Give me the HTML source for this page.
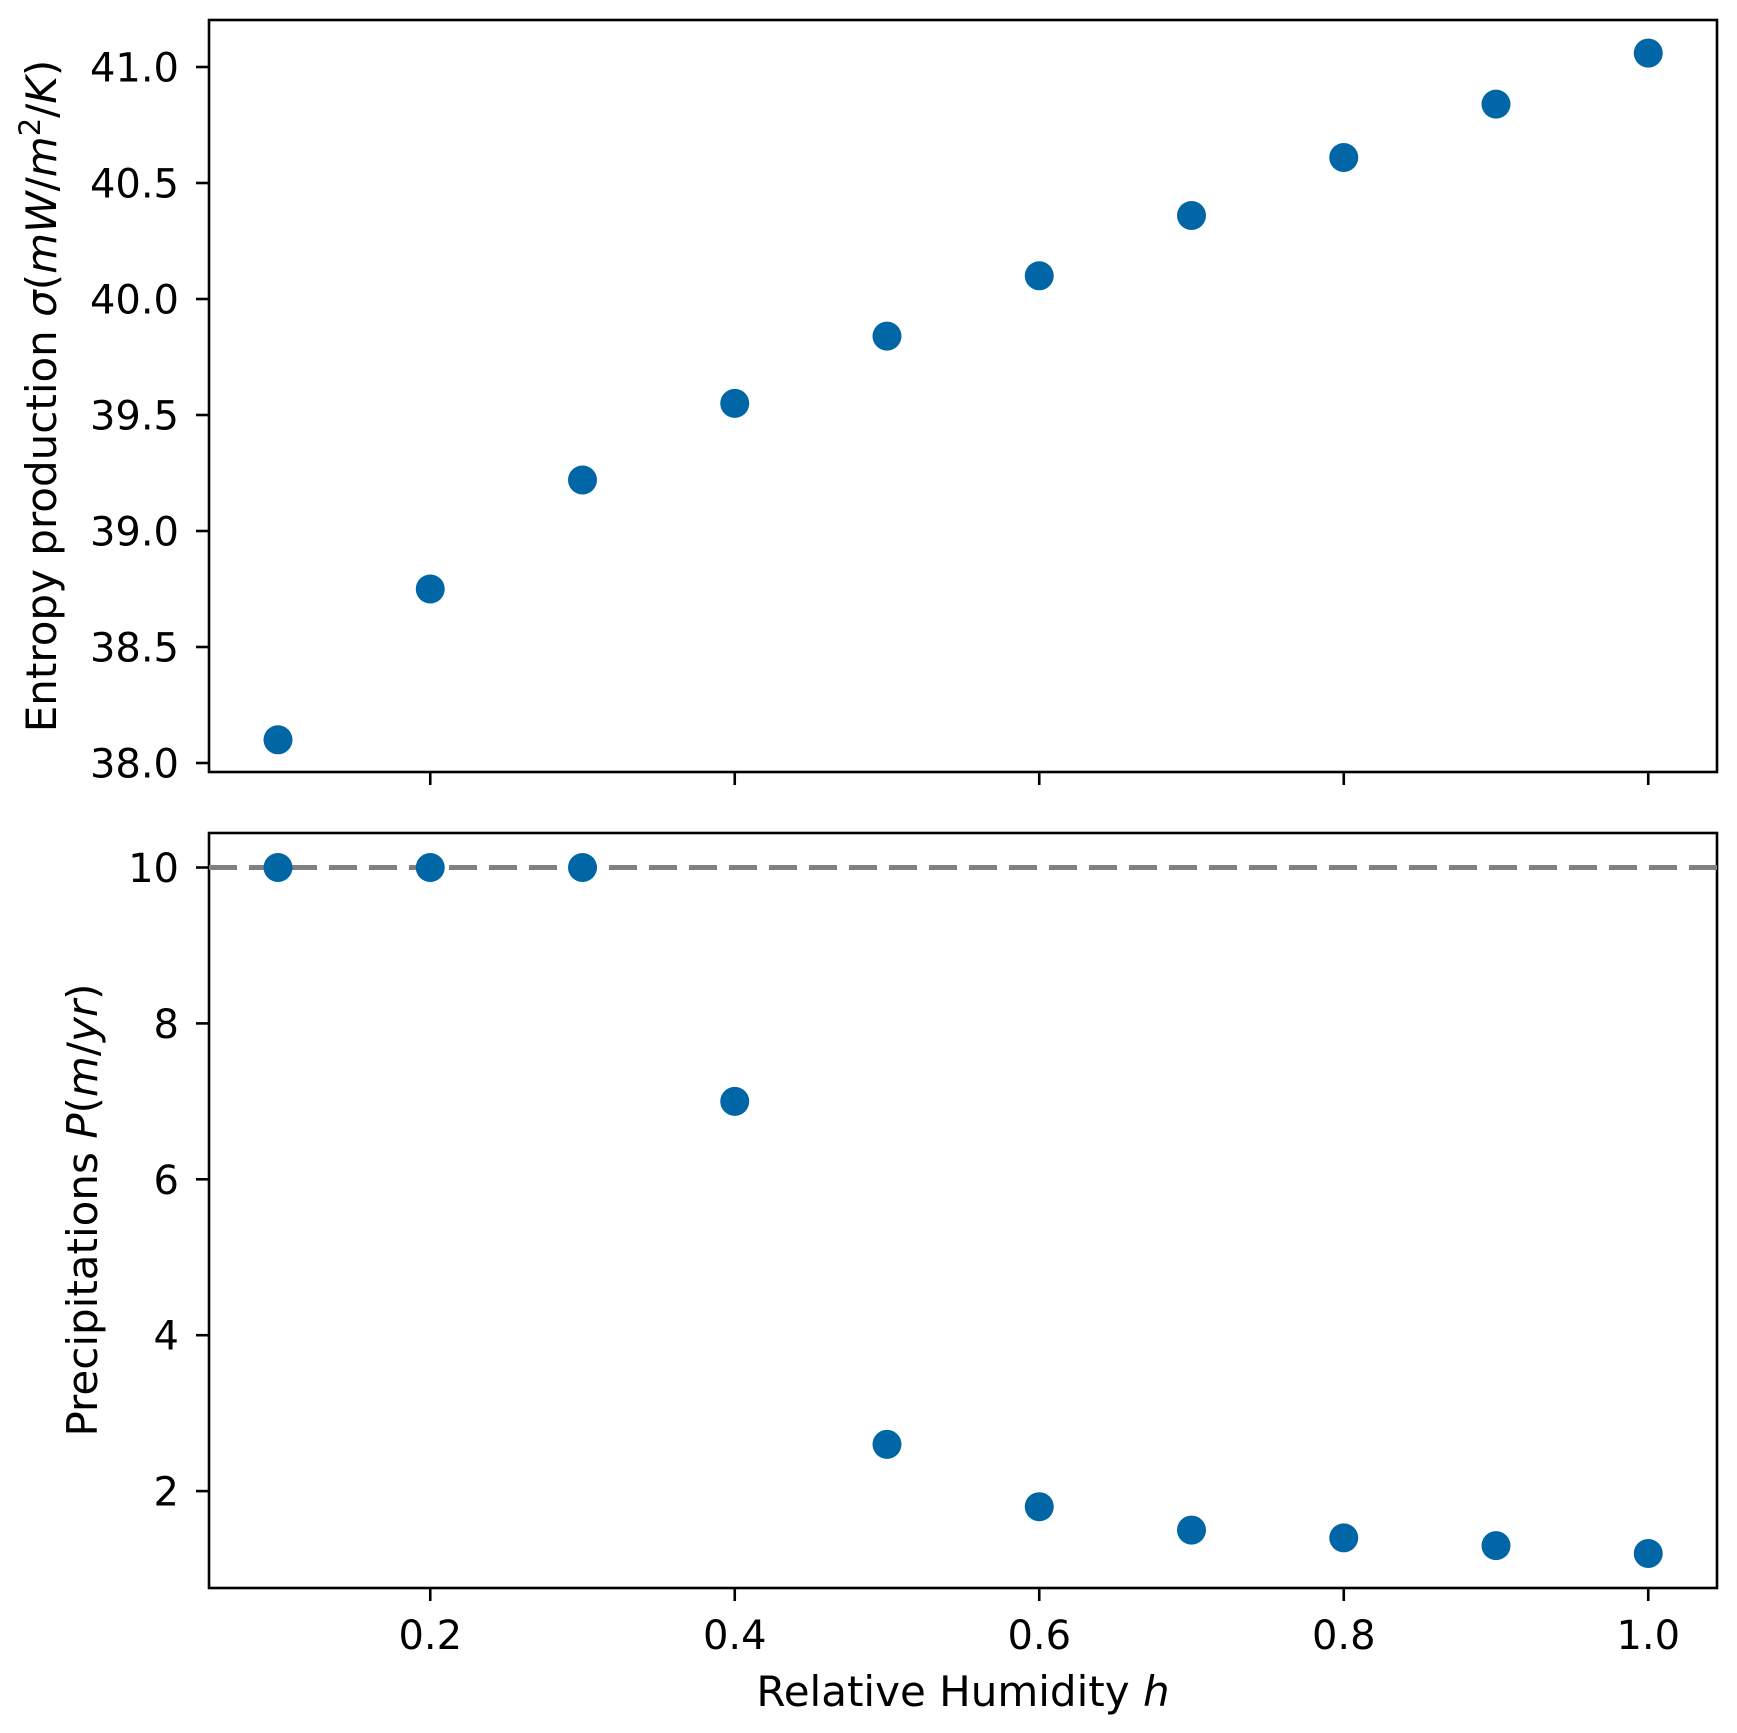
<!DOCTYPE html>
<html><head><meta charset="utf-8"><style>body{margin:0;background:#fff}svg{display:block;font-family:"DejaVu Sans","Liberation Sans",sans-serif}</style></head>
<body>
<svg id="c" width="1737" height="1733" xmlns="http://www.w3.org/2000/svg"></svg>
<script>
const hVals=[0.1,0.2,0.3,0.4,0.5,0.6,0.7,0.8,0.9,1.0];
const entropy=[38.1,38.75,39.22,39.55,39.84,40.1,40.36,40.61,40.84,41.06];
const precip=[10,10,10,7,2.6,1.8,1.5,1.4,1.3,1.2];
const xTicks=[0.2,0.4,0.6,0.8,1.0];
const yTopTicks=[38.0,38.5,39.0,39.5,40.0,40.5,41.0];
const yBotTicks=[2,4,6,8,10];
const refLine=[10];
const NS="http://www.w3.org/2000/svg";
const svg=document.getElementById('c');
const L=209,R=1717;
const x=v=>278+(v-0.1)*1522.5;
const yT=v=>763-(v-38)*232;
const yB=v=>867.5-(v-10)*77.95;
function el(t,a,p){const e=document.createElementNS(NS,t);for(const k in a)e.setAttribute(k,a[k]);(p||svg).appendChild(e);return e;}
function txt(s,a){const e=el('text',a);e.textContent=s;return e;}
let t=el('rect',{x:L,y:20,width:R-L,height:752,fill:'none',stroke:'#000','stroke-width':2.6});


let b=el('rect',{x:L,y:833,width:R-L,height:755,fill:'none',stroke:'#000','stroke-width':2.6});


xTicks.forEach(v=>{
  let a=el('line',{x1:x(v),x2:x(v),y1:772,y2:785,stroke:'#000','stroke-width':2.6});
  
  
  let c=el('line',{x1:x(v),x2:x(v),y1:1588,y2:1601,stroke:'#000','stroke-width':2.6});
  
  
  let l=txt(v.toFixed(1),{x:x(v),y:1649,'font-size':40,'text-anchor':'middle'});
  
  
});
yTopTicks.forEach(v=>{
  let a=el('line',{x1:L-13,x2:L,y1:yT(v),y2:yT(v),stroke:'#000','stroke-width':2.6});
  
  
  let l=txt(v.toFixed(1),{x:L-30,y:yT(v)+14.5,'font-size':40,'text-anchor':'end'});
  
  
});
yBotTicks.forEach(v=>{
  let a=el('line',{x1:L-13,x2:L,y1:yB(v),y2:yB(v),stroke:'#000','stroke-width':2.6});
  
  
  let l=txt(String(v),{x:L-30,y:yB(v)+14.5,'font-size':40,'text-anchor':'end'});
  
  
});
refLine.forEach(v=>{
  let d=el('line',{x1:L,x2:R,y1:yB(v),y2:yB(v),stroke:'#808080','stroke-width':5,'stroke-dasharray':'28 12'});
  
  
});
hVals.forEach((h,i)=>{
  let p=el('circle',{cx:x(h),cy:yT(entropy[i]),r:14.5,fill:'#0066a6'});
  
  
  let q=el('circle',{cx:x(h),cy:yB(precip[i]),r:14.5,fill:'#0066a6'});
  
  
});
let xl=txt('',{x:963,y:1706,'font-size':42,'text-anchor':'middle'});
xl.innerHTML='Relative Humidity <tspan font-style="italic">h</tspan>';


let yl1=txt('',{x:0,y:0,'font-size':42,'text-anchor':'middle',transform:'translate(56,396) rotate(-90)'});
yl1.innerHTML='Entropy production <tspan font-style="italic">σ</tspan>(<tspan font-style="italic">mW</tspan>/<tspan font-style="italic">m</tspan><tspan font-size="29" dy="-16">2</tspan><tspan dy="16">/</tspan><tspan font-style="italic">K</tspan>)';


let yl2=txt('',{x:0,y:0,'font-size':42,'text-anchor':'middle',transform:'translate(97,1210) rotate(-90)'});
yl2.innerHTML='Precipitations <tspan font-style="italic">P</tspan>(<tspan font-style="italic">m</tspan>/<tspan font-style="italic">yr</tspan>)';


</script>
</body></html>
